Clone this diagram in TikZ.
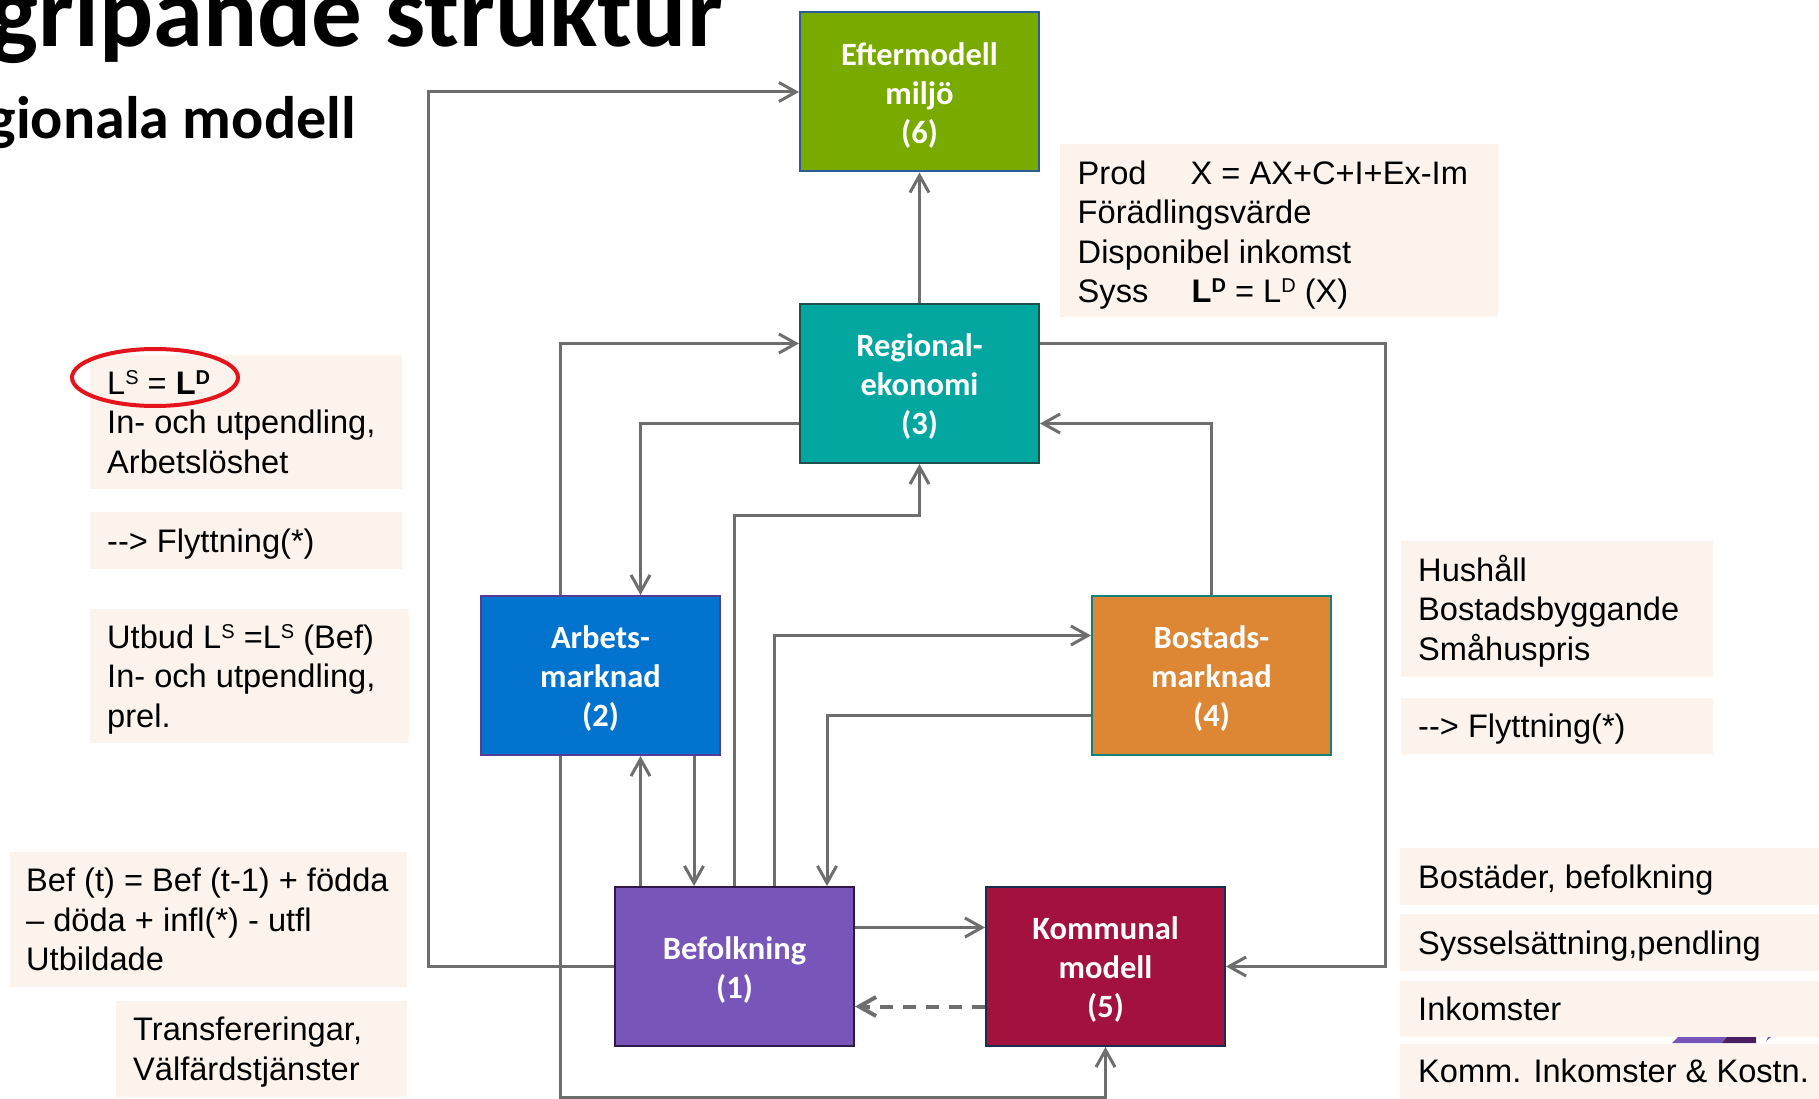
\documentclass[tikz,border=0pt]{standalone}
\usepackage{fontspec}
\setmainfont{Liberation Sans}
\newfontfamily\calfont{Carlito}
\usetikzlibrary{arrows.meta,calc}

% palette
\definecolor{lineGray}{RGB}{110,110,110}
\definecolor{noteBg}{RGB}{251,243,236}
\definecolor{ringRed}{RGB}{228,20,28}
\definecolor{envFill}{RGB}{120,170,0}
\definecolor{envLine}{RGB}{46,90,160}
\definecolor{regFill}{RGB}{4,166,160}
\definecolor{regLine}{RGB}{30,80,78}
\definecolor{arbFill}{RGB}{2,115,206}
\definecolor{arbLine}{RGB}{85,60,150}
\definecolor{bosFill}{RGB}{221,135,53}
\definecolor{bosLine}{RGB}{20,128,125}
\definecolor{befFill}{RGB}{120,85,185}
\definecolor{befLine}{RGB}{48,24,72}
\definecolor{komFill}{RGB}{163,18,62}
\definecolor{komLine}{RGB}{25,45,80}
\definecolor{sliverLight}{RGB}{120,85,185}
\definecolor{sliverDark}{RGB}{75,30,95}

% raised small index letter (L^S, L^D)
\newcommand\supx[1]{\raisebox{10pt}{\fontsize{20}{20}\selectfont #1}}
% struts that keep every text line the same height
\newcommand\lnS{\rule[-8pt]{0pt}{39pt}}
\newcommand\mbS{\rule[-6.7pt]{0pt}{38pt}}

\begin{document}
\begin{tikzpicture}[x=1pt,y=-1pt,
  model/.style={rectangle, draw, line width=2pt, minimum width=239pt,
    minimum height=159pt, inner sep=0pt, align=center, text=white,
    font=\calfont\bfseries\fontsize{32.5}{39}\selectfont},
  notebox/.style={rectangle, fill=noteBg, inner sep=0pt, anchor=north west},
  notetext/.style={anchor=west, align=left, inner sep=0pt,
    font=\fontsize{32.6}{39.5}\selectfont},
  conn/.style={draw=lineGray, line width=3pt,
    -{Straight Barb[length=17pt,width=19pt]}},
  feedback/.style={conn, line width=4pt, dash pattern=on 13pt off 10pt}]

\fill[white] (0,0) rectangle (1819,1099);
\useasboundingbox (0,0) rectangle (1819,1099);
\clip (0,0) rectangle (1819,1099);

% headings
\node[anchor=base east, inner sep=0pt,
  font=\calfont\bfseries\fontsize{101}{101}\selectfont] (head) at (723,47) {gripande struktur};
\node[anchor=base east, inner sep=0pt,
  font=\calfont\bfseries\fontsize{60}{60}\selectfont] (subhead) at (356,139) {gionala modell};

% explanatory notes
\node[notebox, minimum width=438pt, minimum height=173pt] (nProd) at (1060,144) {};
\node[notetext] (tProd) at ($(nProd.west)+(17.5,1.5)$)
  {\lnS\makebox[113pt][l]{Prod}X = AX+C+I+Ex-Im\\
   \lnS Förädlingsvärde\\
   \lnS Disponibel inkomst\\
   \lnS\makebox[114pt][l]{Syss}\textbf{L\supx{D}} = L\supx{D} (X)};

\node[notebox, minimum width=312pt, minimum height=134pt] (nA) at (90,355) {};
\node[notetext] (tA) at ($(nA.west)+(17,0)$)
  {\lnS L\supx{S} = \textbf{L\supx{D}}\\\lnS In- och utpendling,\\\lnS Arbetslöshet};

\node[notebox, minimum width=312pt, minimum height=57pt] (nB) at (90,512) {};
\node[notetext] (tB) at ($(nB.west)+(17,0)$) {\lnS -{}-{}> Flyttning(*)};

\node[notebox, minimum width=319pt, minimum height=134pt] (nC) at (90,609) {};
\node[notetext] (tC) at ($(nC.west)+(17,0)$)
  {\lnS Utbud L\supx{S} =L\supx{S} (Bef)\\\lnS In- och utpendling,\\\lnS prel.};

\node[notebox, minimum width=397pt, minimum height=135pt] (nD) at (10,852) {};
\node[notetext] (tD) at ($(nD.west)+(16,0)$)
  {\lnS Bef (t) = Bef (t-1) + födda\\\lnS – döda + infl(*) - utfl\\\lnS Utbildade};

\node[notebox, minimum width=291pt, minimum height=96pt] (nE) at (116,1001) {};
\node[notetext] (tE) at ($(nE.west)+(17,0)$)
  {\lnS Transfereringar,\\\lnS Välfärdstjänster};

\node[notebox, minimum width=312pt, minimum height=136pt] (nF) at (1401,541) {};
\node[notetext] (tF) at ($(nF.west)+(17,0)$)
  {\lnS Hushåll\\\lnS Bostadsbyggande\\\lnS Småhuspris};

\node[notebox, minimum width=312pt, minimum height=56pt] (nF2) at (1401,698) {};
\node[notetext] (tF2) at ($(nF2.west)+(17,0)$) {\lnS -{}-{}> Flyttning(*)};

% partly hidden shape behind the lower notes
\fill[sliverLight] (1672,1043) -- (1678,1037) -- (1727,1037) -- (1722,1043) -- cycle;
\fill[sliverDark] (1722,1043) -- (1727,1037) -- (1756,1037) -- (1756,1043) -- cycle;
\fill[sliverLight] (1766,1041) -- (1768,1037) -- (1771,1037) -- cycle;

\node[notebox, minimum width=430pt, minimum height=57pt] (nG) at (1400,848) {};
\node[notetext] (tG) at ($(nG.west)+(18,0)$) {\lnS Bostäder, befolkning};
\node[notebox, minimum width=430pt, minimum height=57pt] (nH) at (1400,914) {};
\node[notetext] (tH) at ($(nH.west)+(18,0)$) {\lnS Sysselsättning,pendling};
\node[notebox, minimum width=430pt, minimum height=56pt] (nI) at (1400,981) {};
\node[notetext] (tI) at ($(nI.west)+(18,0)$) {\lnS Inkomster};
\node[notebox, minimum width=430pt, minimum height=60pt] (nJ) at (1400,1044) {};
\node[notetext] (tJ) at ($(nJ.west)+(18,-3)$) {\lnS Komm. Inkomster \& Kostn.};

% highlighted equilibrium condition
\draw[ringRed, line width=4pt] (155,377.5) ellipse [x radius=83pt, y radius=28.5pt];

% model blocks
\node[model, fill=envFill, draw=envLine] (emod) at (919.5,92)
  {\mbS Eftermodell\\\mbS miljö\\\mbS (6)};
\node[model, fill=regFill, draw=regLine] (reg) at (919.5,383.5)
  {\mbS Regional-\\\mbS ekonomi\\\mbS (3)};
\node[model, fill=arbFill, draw=arbLine] (arb) at (600.5,675.5)
  {\mbS Arbets-\\\mbS marknad\\\mbS (2)};
\node[model, fill=bosFill, draw=bosLine] (bost) at (1211.5,675.5)
  {\mbS Bostads-\\\mbS marknad\\\mbS (4)};
\node[model, fill=befFill, draw=befLine] (bef) at (734.5,966.5)
  {\mbS Befolkning\\\mbS (1)};
\node[model, fill=komFill, draw=komLine] (komm) at (1105.5,966.5)
  {\mbS Kommunal\\\mbS modell\\\mbS (5)};

% links between the blocks
\coordinate (arbL) at ($(arb.south)+(40,0)$);
\coordinate (arbR) at ($(arb.south)+(93.5,0)$);

\draw[conn] (bef.west) -- ++(-186,0) |- (emod.west);
\draw[conn] (reg.north) -- (emod.south);
\draw[conn] ($(arb.north)+(-40,0)$) |- ($(reg.west)+(0,-40)$);
\draw[conn] ($(reg.west)+(0,40)$) -| ($(arb.north)+(40,0)$);
\draw[conn] (bef.north) -- ++(0,-371) -| (reg.south);
\draw[conn] (arbL |- bef.north) -- (arbL);
\draw[conn] (arbR) -- (arbR |- bef.north);
\draw[conn] ($(bef.north)+(39.5,0)$) |- ($(bost.west)+(0,-40)$);
\draw[conn] ($(bost.west)+(0,40)$) -| ($(bef.north)+(92.5,0)$);
\draw[conn] (bost.north) |- ($(reg.east)+(0,40)$);
\draw[conn] ($(reg.east)+(0,-40)$) -- ++(345,0) |- (komm.east);
\draw[conn] ($(bef.east)+(0,-39)$) -- ($(komm.west)+(0,-39)$);
\draw[feedback] ($(komm.west)+(0,40)$) -- ($(bef.east)+(0,40)$);
\draw[conn] ($(arb.south)+(-40,0)$) -- ++(0,341) -| (komm.south);

\end{tikzpicture}
\end{document}
